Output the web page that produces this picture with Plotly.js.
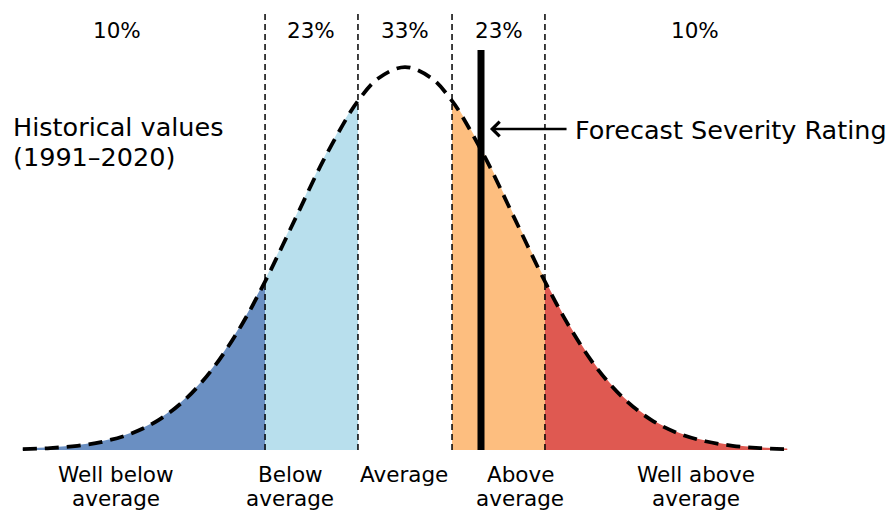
<!DOCTYPE html>
<html>
<head>
<meta charset="utf-8">
<script src="https://cdn.plot.ly/plotly-3.0.1.min.js"></script>
<style>html,body{margin:0;padding:0;background:#fff;}#chart{width:895px;height:512px;}</style>
</head>
<body>
<div id="chart"></div>
<script>
// Standardised value (z) and historical density
const zValues = [-3.5,-3.25,-3.0,-2.75,-2.5,-2.25,-2.0,-1.75,-1.5,-1.2816,-1.0,-0.75,-0.5,-0.4307,-0.25,0,
                 0.25,0.4307,0.5,0.75,1.0,1.2816,1.5,1.75,2.0,2.25,2.5,2.75,3.0,3.25,3.5];
const density = [0.0009,0.0020,0.0044,0.0091,0.0175,0.0317,0.0540,0.0863,0.1295,0.1755,0.2420,0.3011,0.3521,0.3636,0.3867,0.3989,
                 0.3867,0.3636,0.3521,0.3011,0.2420,0.1755,0.1295,0.0863,0.0540,0.0317,0.0175,0.0091,0.0044,0.0020,0.0009];
// Category boundaries (z) : 10% / 23% / 33% / 23% / 10%
const boundaries = [-1.2816,-0.4307,0.4307,1.2816];
const categories = ["Well below\naverage","Below\naverage","Average","Above\naverage","Well above\naverage"];
const percentLabels = ["10%","23%","33%","23%","10%"];
const historicalLabel = "Historical values\n(1991–2020)";
const forecastLabel = "Forecast Severity Rating";
const forecastValue = 0.696;
const forecastTop = 0.4166;

const fillColors = ["#6a8fc2", "#b8dfed", null, "#fdbe7f", "#df5951"];
const edges = [-Infinity].concat(boundaries, [Infinity]);

const traces = [];
for (let i = 0; i < 5; i++) {
  if (!fillColors[i]) continue;
  const xs = [], ys = [];
  zValues.forEach((z, k) => { if (z >= edges[i] - 1e-9 && z <= edges[i+1] + 1e-9) { xs.push(z); ys.push(density[k]); } });
  traces.push({x: xs, y: ys, type: 'scatter', mode: 'lines', fill: 'tozeroy',
    fillcolor: fillColors[i], line: {color: fillColors[i], width: 1.5, shape: 'spline'}, hoverinfo: 'skip'});
}
traces.push({x: zValues, y: density, type: 'scatter', mode: 'lines',
  line: {color: '#000', width: 3.8, dash: '14px,8px', shape: 'spline'}, hoverinfo: 'skip'});

const shapes = boundaries.map(b => ({type: 'line', xref: 'x', yref: 'y', x0: b, x1: b, y0: 0, y1: 0.458,
  line: {color: '#000', width: 1.5, dash: '6px,4px'}, layer: 'above'}));
shapes.push({type: 'line', xref: 'x', yref: 'y', x0: forecastValue, x1: forecastValue, y0: 0, y1: forecastTop,
  line: {color: '#000', width: 7}, layer: 'above'});

const font = {family: 'DejaVu Sans', color: '#000'};
const pctX = [117, 311, 405, 499, 695];
const catX = [116, 290, 404, 520, 696];
const annotations = [];
function addText(t, px, py, size, anchor) {
  annotations.push({text: t, xref: 'paper', yref: 'paper', x: px/895, y: 1 - py/512,
    xanchor: anchor, yanchor: 'middle', showarrow: false, font: Object.assign({size: size}, font)});
}
percentLabels.forEach((t, i) => addText(t, pctX[i], 30, 21.5, 'center'));
categories.forEach((t, i) => t.split('\n').forEach((line, j) => addText(line, catX[i], 474 + 24 * j, 21.5, 'center')));
historicalLabel.split('\n').forEach((line, j) => addText(line, 11, 127 + 30 * j, 25.5, 'left'));
addText(forecastLabel, 573, 130, 25.5, 'left');
annotations.push({text: '', xref: 'x', yref: 'y', x: 0.778, y: 0.3344, ax: 1.493, ay: 0.3344, axref: 'x', ayref: 'y',
  showarrow: true, arrowhead: 4, arrowsize: 1.1, arrowwidth: 2.6, arrowcolor: '#000'});

const layout = {
  width: 895, height: 512, margin: {l: 0, r: 0, t: 0, b: 0},
  paper_bgcolor: '#fff', plot_bgcolor: '#fff', showlegend: false,
  xaxis: {range: [-405/109.2, 490/109.2], visible: false, fixedrange: true},
  yaxis: {range: [-62/960, 450/960], visible: false, fixedrange: true},
  shapes: shapes, annotations: annotations
};
Plotly.newPlot('chart', traces, layout, {staticPlot: true});
</script>
</body>
</html>
